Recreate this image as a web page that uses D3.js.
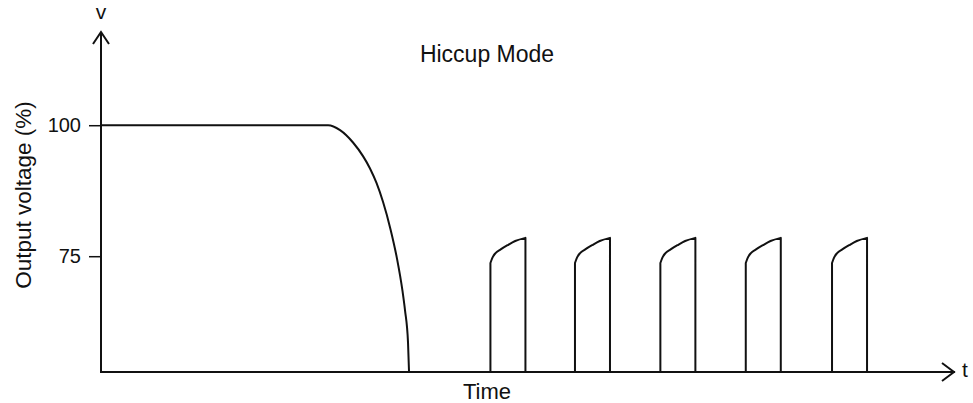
<!DOCTYPE html>
<html>
<head>
<meta charset="utf-8">
<script src="https://cdn.jsdelivr.net/npm/d3@7"></script>
<style>
  html, body { margin: 0; padding: 0; background: #fff; }
  svg { display: block; }
  text { font-family: "Liberation Sans", Arial, Helvetica, sans-serif; fill: #111; }
</style>
</head>
<body>
<svg id="chart" width="973" height="403"></svg>
<script>
// ---- Data (time in arbitrary units 0-100, voltage in %) ----
const title = "Hiccup Mode";
const xLabel = "Time";
const yLabel = "Output voltage (%)";
const yTickValues = [75, 100];
const yAxisSymbol = "v";
const xAxisSymbol = "t";

// Normal operation then collapse of output voltage
const dropSeries = [
  [0, 100], [26.6, 100], [27.99, 99.06], [29.51, 96.7], [30.68, 94.1],
  [31.5, 91.75], [32.27, 88.93], [33.02, 85.38], [33.89, 80.21], [34.66, 74.54],
  [35.3, 68.41], [35.6, 64.66], [35.95, 58.55], [36.07, 52.9]
];

// Hiccup pulses: each pulse is the list of points of its rising curve
const pulse1 = [[45.6, 73.7], [45.8, 74.6], [46.2, 75.6], [46.8, 76.3], [47.6, 77.1], [48.5, 77.9], [49.7, 78.5]];
const pulse2 = [[55.5, 73.7], [55.7, 74.6], [56.1, 75.6], [56.7, 76.3], [57.5, 77.1], [58.4, 77.9], [59.6, 78.5]];
const pulse3 = [[65.5, 73.7], [65.7, 74.6], [66.1, 75.6], [66.7, 76.3], [67.5, 77.1], [68.4, 77.9], [69.6, 78.5]];
const pulse4 = [[75.5, 73.7], [75.7, 74.6], [76.1, 75.6], [76.7, 76.3], [77.5, 77.1], [78.4, 77.9], [79.6, 78.5]];
const pulse5 = [[85.6, 73.7], [85.8, 74.6], [86.2, 75.6], [86.8, 76.3], [87.6, 77.1], [88.5, 77.9], [89.7, 78.5]];
const pulses = [pulse1, pulse2, pulse3, pulse4, pulse5];

const xDomain = [0, 100];
const yDomain = [52.9, 117.6];

// ---- Layout ----
const svg = d3.select("#chart");
const x = d3.scaleLinear().domain(xDomain).range([101, 955]);
const y = d3.scaleLinear().domain(yDomain).range([372, 33]);
const ink = "#111";

// axes lines with arrows
const g = svg.append("g");
const x0 = x(xDomain[0]), y0 = y(yDomain[0]);
g.append("line").attr("x1", x0).attr("y1", y0).attr("x2", x(xDomain[1])).attr("y2", y0)
  .attr("stroke", ink).attr("stroke-width", 2);
g.append("line").attr("x1", x0).attr("y1", y0 + 1).attr("x2", x0).attr("y2", y(yDomain[1]) - 1)
  .attr("stroke", ink).attr("stroke-width", 2);
// arrow heads (open chevrons)
const xt = x(xDomain[1]) - 1, yt = y(yDomain[1]) - 1;
g.append("path").attr("d", `M${xt - 12},${y0 - 9} L${xt},${y0} L${xt - 12},${y0 + 9}`)
  .attr("fill", "none").attr("stroke", ink).attr("stroke-width", 2);
g.append("path").attr("d", `M${x0 - 8},${yt + 12} L${x0},${yt} L${x0 + 8},${yt + 12}`)
  .attr("fill", "none").attr("stroke", ink).attr("stroke-width", 2);

// y ticks
const yAxis = d3.axisLeft(y).tickValues(yTickValues).tickSize(12).tickPadding(8).tickFormat(d3.format("d"));
const ya = svg.append("g").attr("transform", `translate(${x0},0)`).call(yAxis);
ya.select(".domain").remove();
ya.selectAll(".tick line").attr("stroke", ink).attr("stroke-width", 1.5);
ya.selectAll(".tick text").attr("font-size", 20).attr("font-family", "Liberation Sans, Arial, sans-serif").attr("fill", ink);

// curves
const lineGen = d3.line().x(d => x(d[0])).y(d => y(d[1])).curve(d3.curveMonotoneX);
svg.append("path").attr("d", lineGen(dropSeries))
  .attr("fill", "none").attr("stroke", ink).attr("stroke-width", 2);

pulses.forEach(p => {
  const first = p[0], last = p[p.length - 1];
  const path = d3.path();
  path.moveTo(x(first[0]), y0);
  path.lineTo(x(first[0]), y(first[1]));
  const curveCtx = d3.line().x(d => x(d[0])).y(d => y(d[1])).curve(d3.curveMonotoneX).context(path);
  curveCtx(p);
  path.lineTo(x(last[0]), y0);
  svg.append("path").attr("d", path.toString())
    .attr("fill", "none").attr("stroke", ink).attr("stroke-width", 2)
    .attr("stroke-linejoin", "round").attr("stroke-linecap", "round");
});

// texts
svg.append("text").attr("x", 487).attr("y", 62).attr("text-anchor", "middle").attr("font-size", 23).text(title);
svg.append("text").attr("x", 487).attr("y", 399).attr("text-anchor", "middle").attr("font-size", 22).text(xLabel);
svg.append("text").attr("transform", "translate(31,195) rotate(-90)").attr("text-anchor", "middle")
  .attr("font-size", 22.5).text(yLabel);
svg.append("text").attr("x", x0).attr("y", 19).attr("text-anchor", "middle").attr("font-size", 21).text(yAxisSymbol);
svg.append("text").attr("x", 962).attr("y", 377).attr("text-anchor", "start").attr("font-size", 21).text(xAxisSymbol);
</script>
</body>
</html>
